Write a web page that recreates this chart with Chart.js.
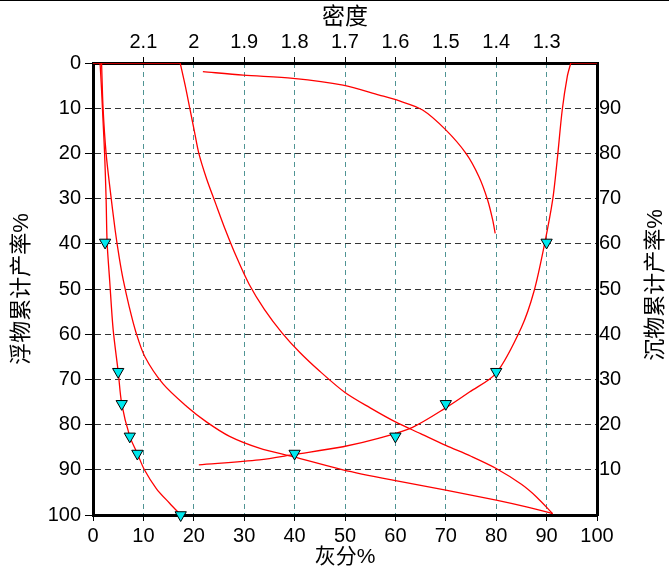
<!DOCTYPE html>
<html>
<head>
<meta charset="utf-8">
<script src="https://cdn.jsdelivr.net/npm/chart.js@4.4.0/dist/chart.umd.min.js"></script>
<style>
    html, body { margin: 0; padding: 0; background: #fff; }
    #wrap { width: 669px; height: 574px; }
</style>
</head>
<body>
<div id="wrap"><canvas id="chart" width="669" height="574"></canvas></div>
<script>
// β 浮物累计灰分曲线 (灰分%, 浮物累计产率%)
const betaAsh   = [1.4, 1.7, 2.0, 2.3, 2.6, 2.8, 3.3, 4.0, 5.0, 5.7, 7.3, 8.8, 10.2, 12.6, 15.2, 17.4];
const betaYield = [0, 6, 13, 20, 30, 39.7, 48, 59, 68.3, 75.4, 82.6, 86.4, 90, 94.2, 97.4, 100];

// λ 基元灰分曲线
const lambdaAsh   = [1.7, 2.0, 2.6, 3.4, 4.4, 5.2, 6.0, 7.2, 8.5, 10.3, 13.9, 18.6, 22.5, 27.1, 33.0, 39.7, 49.6, 59.5, 70.0, 80.0, 86.0, 91.2];
const lambdaYield = [0, 10, 20, 28, 37, 43, 48, 54, 59.5, 65, 71, 76, 79.4, 82.6, 85.2, 87.1, 90, 92.3, 94.5, 96.7, 98.2, 99.7];

// θ 沉物累计灰分曲线 (灰分%, 沉物累计产率%)
const thetaAsh  = [17.3, 18.3, 19.2, 20.1, 21.0, 22.5, 24.3, 26.3, 28.5, 31.0, 34.0, 37.5, 41.0, 45.0, 50.0, 55.0, 60.0, 65.0, 70.0, 75.0, 80.0, 85.0, 88.0, 91.2];
const thetaSink = [100, 95, 90, 85, 80, 74.5, 69, 63, 57, 51, 45.5, 40.3, 36.0, 31.8, 27.1, 23.7, 20.6, 18, 15.4, 13, 10.3, 6.8, 4, 0.3];
// θ 起点前沿上边框的一段
const thetaEdgeAsh  = [0, 17.3];
const thetaEdgeSink = [100, 100];

// δ 密度曲线 (密度, 浮物累计产率%)
const deltaDens  = [1.99, 1.87, 1.80, 1.704, 1.632, 1.566, 1.50, 1.453, 1.40, 1.35, 1.325, 1.304, 1.288, 1.279, 1.269, 1.259, 1.252];
const deltaYield = [88.9, 87.8, 86.6, 84.9, 83.0, 80.6, 76.3, 72.8, 68.6, 58.5, 50.5, 40, 30.3, 21.5, 10.4, 3, 0];
const deltaEdgeDens  = [1.252, 1.20];
const deltaEdgeYield = [0, 0];

// ε ±0.1 邻近密度物曲线
const epsDens  = [1.982, 1.902, 1.803, 1.704, 1.632, 1.592, 1.546, 1.50, 1.46, 1.434, 1.417, 1.407, 1.402];
const epsYield = [1.9, 2.7, 3.4, 4.9, 7.1, 8.4, 10.4, 14.8, 20, 25.2, 30.3, 34.7, 37.7];

// 试验点
const floatMarkAsh   = [2.4, 5.0, 5.7, 7.3, 8.8, 17.4];
const floatMarkYield = [39.7, 68.3, 75.4, 82.6, 86.4, 100];
const densMark       = [1.3, 1.4, 1.5, 1.6, 1.8];
const densMarkYield  = [39.7, 68.3, 75.4, 82.6, 86.4];

// 刻度
const yTicks    = [0, 10, 20, 30, 40, 50, 60, 70, 80, 90, 100];
const sinkTicks = [10, 20, 30, 40, 50, 60, 70, 80, 90];
const densTicks = [2.1, 2, 1.9, 1.8, 1.7, 1.6, 1.5, 1.4, 1.3];

const FONT = "'Liberation Sans', 'Noto Sans CJK SC', sans-serif";
Chart.defaults.font.family = FONT;
Chart.defaults.font.size = 20;
Chart.defaults.color = '#000';

const toPts = (xs, ys) => xs.map((x, i) => ({ x: x, y: ys[i] }));

const curve = (data, xAxisID, yAxisID, tension) => ({
    type: 'line',
    data: data,
    xAxisID: xAxisID,
    yAxisID: yAxisID,
    borderColor: '#ff0000',
    borderWidth: 1.3,
    pointRadius: 0,
    tension: tension,
    fill: false
});

const marks = (data, xAxisID) => ({
    type: 'scatter',
    data: data,
    xAxisID: xAxisID,
    yAxisID: 'y',
    pointStyle: 'triangle',
    rotation: 180,
    pointRadius: 6.5,
    backgroundColor: '#00e8ee',
    borderColor: '#000',
    borderWidth: 1,
    clip: false
});

const hideEdge = (color) => (ctx) => {
    const v = ctx.tick ? ctx.tick.value : null;
    return (v === 0 || v === 100) ? 'rgba(0,0,0,0)' : color;
};

const pageDecor = {
    id: 'pageDecor',
    beforeDraw(chart) {
        const c = chart.ctx;
        c.save();
        c.fillStyle = '#fff';
        c.fillRect(0, 0, chart.width, chart.height);
        c.fillStyle = '#000';
        c.fillRect(0, 0, chart.width, 1);
        c.restore();
    },
    afterDraw(chart) {
        // right axis title reads bottom-to-top like the left one
        const c = chart.ctx;
        c.save();
        c.translate(656, (chart.chartArea.top + chart.chartArea.bottom) / 2 - 4);
        c.rotate(-Math.PI / 2);
        c.font = '22px ' + FONT;
        c.fillStyle = '#000';
        c.textAlign = 'center';
        c.textBaseline = 'middle';
        c.fillText('沉物累计产率%', 0, 0);
        c.restore();
    }
};

new Chart(document.getElementById('chart'), {
    type: 'scatter',
    data: {
        datasets: [
            marks(toPts(floatMarkAsh, floatMarkYield), 'x'),
            marks(toPts(densMark, densMarkYield), 'xTop'),
            curve(toPts(betaAsh, betaYield), 'x', 'y', 0.3),
            curve(toPts(lambdaAsh, lambdaYield), 'x', 'y', 0.3),
            curve(toPts(thetaAsh, thetaSink), 'x', 'yRight', 0.3),
            curve(toPts(thetaEdgeAsh, thetaEdgeSink), 'x', 'yRight', 0),
            curve(toPts(deltaDens, deltaYield), 'xTop', 'y', 0.3),
            curve(toPts(deltaEdgeDens, deltaEdgeYield), 'xTop', 'y', 0),
            curve(toPts(epsDens, epsYield), 'xTop', 'y', 0.3)
        ]
    },
    options: {
        responsive: false,
        animation: false,
        layout: { padding: 0 },
        plugins: {
            legend: { display: false },
            tooltip: { enabled: false }
        },
        scales: {
            x: {
                type: 'linear',
                position: 'bottom',
                min: 0,
                max: 100,
                afterBuildTicks: (s) => { s.ticks = yTicks.map(v => ({ value: v })); },
                afterFit: (s) => { s.height = 59; },
                ticks: { padding: 3, callback: (v) => v },
                grid: { color: hideEdge('#4f9494'), tickColor: '#000', tickLength: 6, lineWidth: 1 },
                border: { color: '#000', width: 3, dash: [5, 4] },
                title: { display: true, text: '灰分%', font: { size: 21 }, padding: { top: 0, bottom: 4 } }
            },
            xTop: {
                type: 'linear',
                position: 'top',
                min: 1.2,
                max: 2.2,
                reverse: true,
                afterBuildTicks: (s) => { s.ticks = densTicks.map(v => ({ value: v })); },
                afterFit: (s) => { s.height = 63; },
                ticks: { padding: 3, callback: (v) => String(Math.round(v * 10) / 10) },
                grid: { drawOnChartArea: false, tickColor: '#000', tickLength: 6 },
                border: { color: '#000', width: 3 },
                title: { display: true, text: '密度', font: { size: 23 }, padding: { top: 4, bottom: 0 } }
            },
            y: {
                type: 'linear',
                position: 'left',
                min: 0,
                max: 100,
                reverse: true,
                afterBuildTicks: (s) => { s.ticks = yTicks.map(v => ({ value: v })); },
                afterFit: (s) => { s.width = 93; },
                ticks: { padding: 4, callback: (v) => v },
                grid: { color: hideEdge('#333333'), tickColor: '#000', tickLength: 8, lineWidth: 1 },
                border: { color: '#000', width: 3, dash: [6, 4] },
                title: { display: true, text: '浮物累计产率%', font: { size: 22 }, padding: { top: 9, bottom: 0 } }
            },
            yRight: {
                type: 'linear',
                position: 'right',
                min: 0,
                max: 100,
                afterBuildTicks: (s) => { s.ticks = sinkTicks.map(v => ({ value: v })); },
                afterFit: (s) => { s.width = 72; },
                ticks: { padding: 2, callback: (v) => v },
                grid: { drawOnChartArea: false, drawTicks: false },
                border: { color: '#000', width: 3 },
                title: { display: false }
            }
        }
    },
    plugins: [pageDecor]
});
</script>
</body>
</html>
